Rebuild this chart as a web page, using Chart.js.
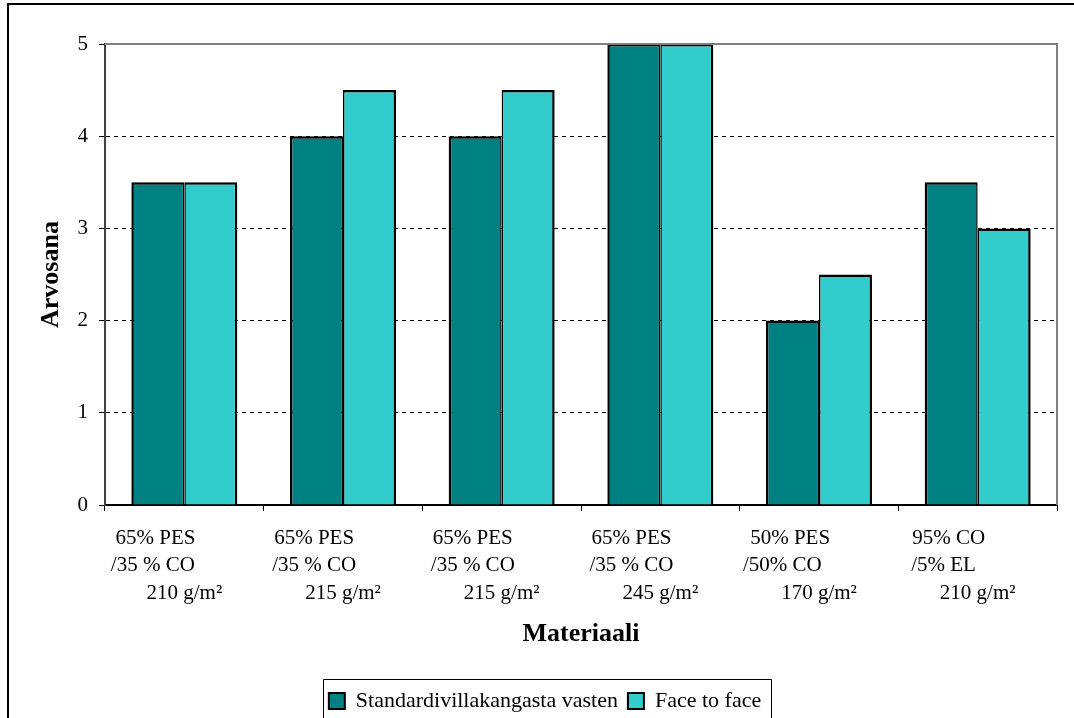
<!DOCTYPE html>
<html lang="fi">
<head>
<meta charset="utf-8">
<title>Arvosana materiaaleittain</title>
<script src="https://cdn.jsdelivr.net/npm/chart.js@4.4.1/dist/chart.umd.min.js"></script>
<style>
  html, body { margin: 0; padding: 0; background: #fff; overflow: hidden; }
  #wrap { position: relative; width: 1074px; height: 718px; }
</style>
</head>
<body>
<div id="wrap"><canvas id="chart"></canvas></div>
<script>
// Trailing blanks nudge the first two lines of each label to the left, as in the original sheet.
const pad = (s, n) => s + ' '.repeat(n);

const materials = [
  [pad('65% PES', 11), pad('/35 % CO', 12), '210 g/m²'],
  [pad('65% PES', 11), pad('/35 % CO', 11), '215 g/m²'],
  [pad('65% PES', 11), pad('/35 % CO', 11), '215 g/m²'],
  [pad('65% PES', 11), pad('/35 % CO', 11), '245 g/m²'],
  [pad('50% PES', 11), pad('/50% CO', 14), '170 g/m²'],
  [pad('95% CO', 11), pad('/5% EL', 13), '210 g/m²']
];
const seriesNames = ['Standardivillakangasta vasten', 'Face to face'];
const standardValues = [3.5, 4, 4, 5, 2, 3.5];
const faceValues = [3.5, 4.5, 4.5, 5, 2.5, 3];
const gradeTicks = [0, 1, 2, 3, 4, 5];

const FONT = "'Liberation Serif', 'Times New Roman', Times, serif";
Chart.defaults.font.family = FONT;
Chart.defaults.color = '#000';

// Chart border, plot frame (top/right) and the box round the legend
const framePlugin = {
  id: 'frame',
  afterDraw(chart) {
    const { ctx, chartArea: a } = chart;
    ctx.save();
    ctx.strokeStyle = '#000';
    ctx.lineWidth = 2;
    ctx.strokeRect(8, 4, 3000, 3000);

    ctx.strokeStyle = '#808080';
    ctx.lineWidth = 2;
    ctx.beginPath();
    ctx.moveTo(a.left, a.top);
    ctx.lineTo(a.right, a.top);
    ctx.lineTo(a.right, a.bottom);
    ctx.stroke();

    const hb = chart.legend && chart.legend.legendHitBoxes;
    if (hb && hb.length) {
      const first = hb[0], last = hb[hb.length - 1];
      const l = Math.round(first.left - 6) + 0.5;
      const r = Math.round(last.left + last.width + 10) + 0.5;
      const t = Math.round(first.top - 11) + 0.5;
      ctx.strokeStyle = '#000';
      ctx.lineWidth = 1;
      ctx.beginPath();
      ctx.moveTo(l, chart.height + 10);
      ctx.lineTo(l, t);
      ctx.lineTo(r, t);
      ctx.lineTo(r, chart.height + 10);
      ctx.stroke();
    }
    ctx.restore();
  }
};

new Chart(document.getElementById('chart'), {
  type: 'bar',
  data: {
    labels: materials,
    datasets: [
      {
        label: seriesNames[0],
        data: standardValues,
        backgroundColor: '#008080',
        borderColor: '#000',
        borderWidth: { top: 2.5, left: 2.5, right: 1.5, bottom: 0 },
        borderSkipped: false
      },
      {
        label: seriesNames[1],
        data: faceValues,
        backgroundColor: '#33CCCC',
        borderColor: '#000',
        borderWidth: { top: 2.5, left: 1.5, right: 2.5, bottom: 0 },
        borderSkipped: false
      }
    ]
  },
  options: {
    responsive: true,
    maintainAspectRatio: false,
    animation: false,
    events: [],
    datasets: { bar: { categoryPercentage: 0.668, barPercentage: 1.0 } },
    layout: { padding: { top: 44, left: 33, right: 17, bottom: -4 } },
    plugins: {
      tooltip: { enabled: false },
      legend: {
        position: 'bottom',
        align: 'center',
        labels: {
          boxWidth: 16,
          boxHeight: 16,
          padding: 10,
          color: '#000',
          font: { size: 22, family: FONT },
          generateLabels(chart) {
            return Chart.defaults.plugins.legend.labels.generateLabels(chart)
              .map(item => Object.assign(item, { lineWidth: 2, strokeStyle: '#000' }));
          }
        }
      }
    },
    scales: {
      x: {
        offset: true,
        afterFit(scale) { scale.height = 175; },
        grid: {
          offset: true,
          drawOnChartArea: false,
          drawTicks: true,
          tickLength: 6,
          tickColor: '#000',
          tickWidth: 1
        },
        border: { display: true, color: '#000', width: 2 },
        ticks: {
          autoSkip: false,
          maxRotation: 0,
          minRotation: 0,
          padding: 14,
          color: '#000',
          font: { size: 21, family: FONT, lineHeight: 1.3 }
        },
        title: {
          display: true,
          text: 'Materiaali',
          color: '#000',
          font: { size: 26, weight: 'bold', family: FONT, lineHeight: 1.2 },
          padding: { top: 0, bottom: 30 }
        }
      },
      y: {
        min: 0,
        max: 5,
        afterFit(scale) { scale.width = 72; },
        afterBuildTicks(scale) { scale.ticks = gradeTicks.map(v => ({ value: v })); },
        grid: {
          color: c => (c.tick && c.tick.value > 0 && c.tick.value < 5) ? '#000' : 'rgba(0,0,0,0)',
          lineWidth: 1,
          drawTicks: true,
          tickLength: 6,
          tickColor: '#000',
          tickWidth: 1,
          tickBorderDash: []
        },
        border: { display: true, color: '#404040', width: 2, dash: [4, 4] },
        ticks: {
          padding: 11,
          color: '#000',
          font: { size: 21, family: FONT }
        },
        title: {
          display: true,
          text: 'Arvosana',
          color: '#000',
          font: { size: 26, weight: 'bold', family: FONT, lineHeight: 1.2 },
          padding: { top: 3, bottom: 0 }
        }
      }
    }
  },
  plugins: [framePlugin]
});
</script>
</body>
</html>
